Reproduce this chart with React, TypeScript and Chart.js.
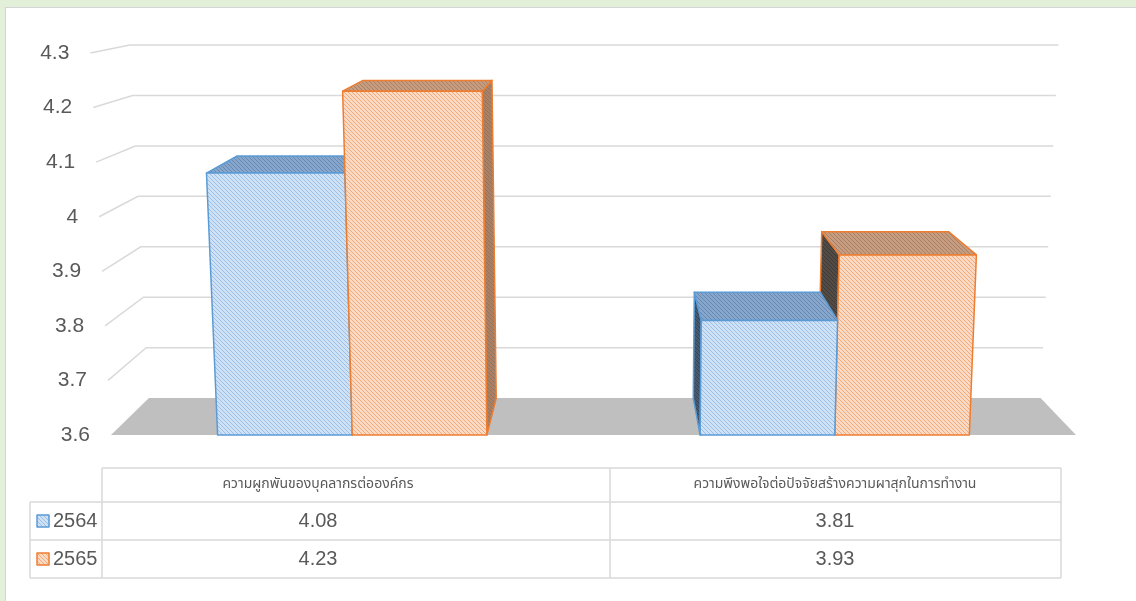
import React, { useEffect, useRef } from "react";
import { Chart, registerables } from "chart.js";

Chart.register(...registerables);

const categories = [
  "ความผูกพันของบุคลากรต่อองค์กร",
  "ความพึงพอใจต่อปัจจัยสร้างความผาสุกในการทำงาน",
];
const seriesNames = ["2564", "2565"];
const values2564 = [4.08, 3.81];
const values2565 = [4.23, 3.93];
const yTickValues = [3.6, 3.7, 3.8, 3.9, 4.0, 4.1, 4.2, 4.3];
const yTickLabels = ["3.6", "3.7", "3.8", "3.9", "4", "4.1", "4.2", "4.3"];

const W = 1136;
const H = 601;
const VX = 610;
const VY = -51;
const K = 0.924;
const C = 1.085e-4;

const TEXT = "#595959";
const GRID = "#d9d9d9";
const AXIS_FONT = '21px "Liberation Sans", Arial, sans-serif';
const NUM_FONT = '20px "Liberation Sans", Arial, sans-serif';
const THAI_FONT = '14px "Noto Sans Thai", "Noto Sans", "DejaVu Sans", sans-serif';

const styles = [
  {
    front: ["#cfe2f5", "#9bbfe6"],
    top: ["#86a6cc", "#6689b4"],
    side: ["#46596f", "#34475c"],
    stroke: "#5b9bd5",
  },
  {
    front: ["#fadac5", "#f2aa79"],
    top: ["#c69d80", "#a98064"],
    side: ["#a88166", "#957259"],
    sideDark: ["#524b46", "#3f3a36"],
    stroke: "#ed7d31",
  },
];

function makePattern(ctx: CanvasRenderingContext2D, base: string, stripe: string) {
  const c = document.createElement("canvas");
  c.width = 4;
  c.height = 4;
  const g = c.getContext("2d")!;
  g.fillStyle = base;
  g.fillRect(0, 0, 4, 4);
  g.fillStyle = stripe;
  for (let i = 0; i < 4; i++) g.fillRect(i, i, 1, 1);
  return ctx.createPattern(c, "repeat")!;
}

type Pt = { x: number; y: number };

function poly(ctx: CanvasRenderingContext2D, pts: Pt[], fill: any, stroke?: string, lw = 1.5) {
  ctx.beginPath();
  ctx.moveTo(pts[0].x, pts[0].y);
  for (let i = 1; i < pts.length; i++) ctx.lineTo(pts[i].x, pts[i].y);
  ctx.closePath();
  ctx.fillStyle = fill;
  ctx.fill();
  if (stroke) {
    ctx.strokeStyle = stroke;
    ctx.lineWidth = lw;
    ctx.lineJoin = "round";
    ctx.stroke();
  }
}

const threeD = {
  id: "threeD",
  afterDraw(chart: any) {
    const ctx: CanvasRenderingContext2D = chart.ctx;
    const ca = chart.chartArea;
    const ys = chart.scales.y;
    const bottom = ca.bottom;
    const P = (x0: number, y: number): Pt => ({
      x: VX + (x0 - VX) * (1 + C * (bottom - y)),
      y,
    });
    const D = (p: Pt): Pt => ({ x: VX + (p.x - VX) * K, y: VY + (p.y - VY) * K });

    ctx.save();
    // floor
    const fl = P(ca.left, bottom);
    const fr = P(ca.right, bottom);
    poly(ctx, [fl, fr, D(fr), D(fl)], "#bfbfbf");

    // gridlines + stubs
    ctx.strokeStyle = GRID;
    ctx.lineWidth = 1.5;
    yTickValues.forEach((v, i) => {
      if (i === 0) return;
      const y = ys.getPixelForValue(v);
      const F = P(ca.left, y);
      const B = D(F);
      const R = D(P(ca.right, y));
      ctx.beginPath();
      ctx.moveTo(F.x, F.y);
      ctx.lineTo(B.x, B.y);
      ctx.lineTo(R.x, R.y);
      ctx.stroke();
    });

    // y labels
    ctx.font = AXIS_FONT;
    ctx.fillStyle = TEXT;
    ctx.textAlign = "right";
    ctx.textBaseline = "middle";
    yTickValues.forEach((v, i) => {
      const y = ys.getPixelForValue(v);
      const F = P(ca.left, y);
      ctx.fillText(yTickLabels[i], F.x - 21, y);
    });

    // bars
    const baseY = ys.getPixelForValue(yTickValues[0]);
    const bars: any[] = [];
    chart.data.datasets.forEach((ds: any, di: number) => {
      const meta = chart.getDatasetMeta(di);
      meta.data.forEach((el: any) => {
        const props = el.getProps(["x", "y", "base", "width"], true);
        bars.push({
          di,
          xl: props.x - props.width / 2,
          xr: props.x + props.width / 2,
          cx: props.x,
          yt: props.y,
          base: Math.min(props.base, baseY),
        });
      });
    });
    bars.sort((a, b) => Math.abs(b.cx - VX) - Math.abs(a.cx - VX));
    bars.forEach((b) => {
      const st: any = styles[b.di];
      const TL = P(b.xl, b.yt);
      const TR = P(b.xr, b.yt);
      const BL = P(b.xl, b.base);
      const BR = P(b.xr, b.base);
      const leftOfV = b.cx < VX;
      const side = leftOfV ? [BR, TR, D(TR), D(BR)] : [BL, TL, D(TL), D(BL)];
      const sideCols = !leftOfV && st.sideDark ? st.sideDark : st.side;
      poly(ctx, side, makePattern(ctx, sideCols[0], sideCols[1]), st.stroke);
      poly(ctx, [TL, TR, D(TR), D(TL)], makePattern(ctx, st.top[0], st.top[1]), st.stroke);
      poly(ctx, [BL, BR, TR, TL], makePattern(ctx, st.front[0], st.front[1]), st.stroke);
    });

    // data table
    const colX = [30, 102, VX, 1061];
    const rowY = [468, 502, 540, 578];
    const textCx = [318, 835];
    ctx.strokeStyle = GRID;
    ctx.lineWidth = 1.5;
    ctx.beginPath();
    ctx.moveTo(colX[1], rowY[0]);
    ctx.lineTo(colX[3], rowY[0]);
    for (let r = 1; r < rowY.length; r++) {
      ctx.moveTo(colX[0], rowY[r]);
      ctx.lineTo(colX[3], rowY[r]);
    }
    ctx.moveTo(colX[0], rowY[1]);
    ctx.lineTo(colX[0], rowY[3]);
    for (let c = 1; c < colX.length; c++) {
      ctx.moveTo(colX[c], rowY[0]);
      ctx.lineTo(colX[c], rowY[3]);
    }
    ctx.stroke();

    ctx.fillStyle = TEXT;
    ctx.textAlign = "center";
    ctx.textBaseline = "middle";
    ctx.font = THAI_FONT;
    categories.forEach((c, i) => {
      ctx.fillText(c, textCx[i], (rowY[0] + rowY[1]) / 2);
    });
    const series = [values2564, values2565];
    ctx.font = NUM_FONT;
    series.forEach((vals, si) => {
      const cy = (rowY[si + 1] + rowY[si + 2]) / 2;
      vals.forEach((v, ci) => {
        ctx.fillStyle = TEXT;
        ctx.textAlign = "center";
        ctx.fillText(v.toFixed(2), textCx[ci], cy);
      });
      const st: any = styles[si];
      poly(
        ctx,
        [
          { x: 37, y: cy - 6 },
          { x: 49, y: cy - 6 },
          { x: 49, y: cy + 6 },
          { x: 37, y: cy + 6 },
        ],
        makePattern(ctx, st.front[0], st.front[1]),
        st.stroke,
        1.5
      );
      ctx.fillStyle = TEXT;
      ctx.textAlign = "left";
      ctx.fillText(seriesNames[si], 53, cy);
    });
    ctx.restore();
  },
};

export default function App() {
  const ref = useRef<HTMLCanvasElement>(null);
  useEffect(() => {
    document.body.style.margin = "0";
    const chart = new Chart(ref.current!, {
      type: "bar",
      data: {
        labels: categories,
        datasets: [
          {
            label: seriesNames[0],
            data: values2564,
            backgroundColor: "rgba(0,0,0,0)",
            borderWidth: 0,
          },
          {
            label: seriesNames[1],
            data: values2565,
            backgroundColor: "rgba(0,0,0,0)",
            borderWidth: 0,
          },
        ],
      },
      options: {
        animation: false,
        responsive: false,
        devicePixelRatio: 1,
        layout: { padding: { left: 111, right: W - 1076, top: 53, bottom: H - 435 } },
        datasets: { bar: { barPercentage: 1, categoryPercentage: 0.558 } },
        plugins: { legend: { display: false }, tooltip: { enabled: false } },
        scales: {
          x: { display: false },
          y: { display: false, min: 3.6, max: 4.3 },
        },
      },
      plugins: [threeD],
    });
    return () => chart.destroy();
  }, []);
  return (
    <div
      style={{
        position: "relative",
        width: W,
        height: H,
        background: "#e2efd9",
        overflow: "hidden",
      }}
    >
      <div
        style={{
          position: "absolute",
          left: 5,
          top: 7,
          width: W + 20,
          height: H + 20,
          background: "#ffffff",
          border: "1px solid #d4d4d4",
        }}
      />
      <canvas ref={ref} width={W} height={H} style={{ position: "absolute", left: 0, top: 0 }} />
    </div>
  );
}
